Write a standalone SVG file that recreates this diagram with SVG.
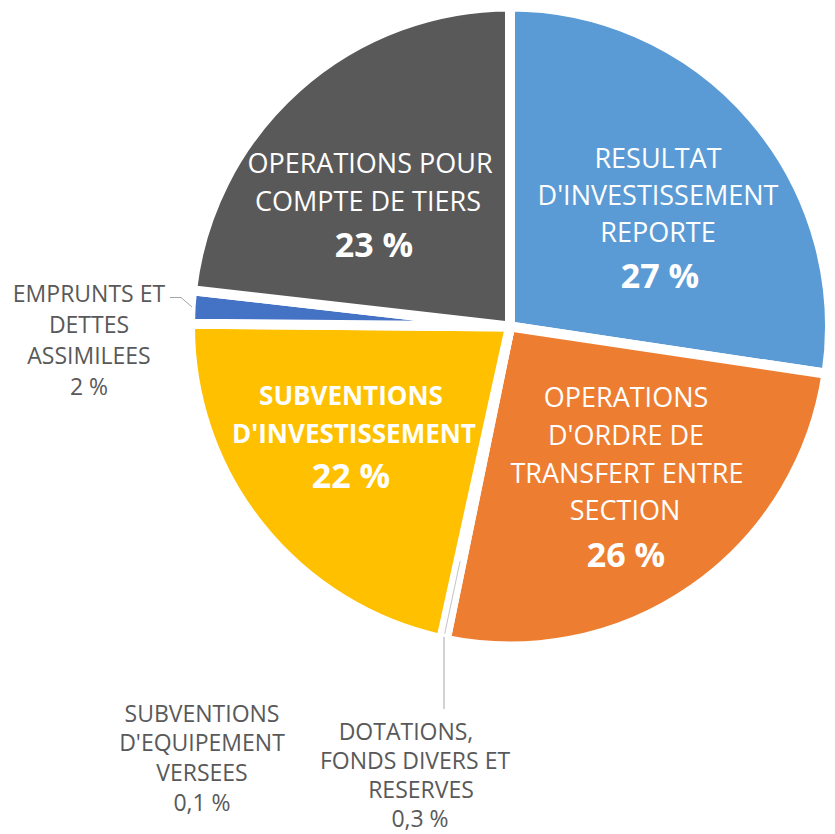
<svg xmlns="http://www.w3.org/2000/svg" width="835" height="834" viewBox="0 0 835 834">
  <style>
    .slice { stroke: #FFFFFF; stroke-width: 10; stroke-linejoin: round; }
    .in { font-family: "Open Sans", "Noto Sans", sans-serif; font-size: 27px; fill: #FFFFFF; text-anchor: middle; }
    .inb { font-family: "Open Sans", "Noto Sans", sans-serif; font-size: 34px; font-weight: bold; fill: #FFFFFF; text-anchor: middle; }
    .yb { font-family: "Open Sans", "Noto Sans", sans-serif; font-size: 26px; font-weight: bold; fill: #FFFFFF; text-anchor: middle; }
    .out { font-family: "Open Sans", "Noto Sans", sans-serif; font-size: 23px; fill: #595959; text-anchor: middle; }
    .leader { fill: none; stroke: #A6A6A6; stroke-width: 1; }
  </style>
  <rect width="835" height="834" fill="#FFFFFF"/>

  <g id="resultat">
    <path class="slice" fill="#5B9BD5" d="M510,326.5 L510,6.5 A320,320 0 0,1 826.49,373.8 Z"/>
    <text class="in" x="658" y="168">RESULTAT</text>
    <text class="in" x="658" y="205">D'INVESTISSEMENT</text>
    <text class="in" x="658" y="242">REPORTE</text>
    <text class="inb" x="660" y="288">27 %</text>
  </g>

  <g id="operations-ordre">
    <path class="slice" fill="#ED7D31" d="M510,326.5 L826.49,373.8 A320,320 0 0,1 445.65,639.97 Z"/>
    <text class="in" x="626" y="407">OPERATIONS</text>
    <text class="in" x="626" y="445">D'ORDRE DE</text>
    <text class="in" x="627" y="483">TRANSFERT ENTRE</text>
    <text class="in" x="625" y="520">SECTION</text>
    <text class="inb" x="626" y="567">26 %</text>
  </g>

  <g id="dotations">
    <path class="slice" fill="#A5A5A5" d="M510,326.5 L445.65,639.97 A320,320 0 0,1 442.92,639.39 Z"/>
  </g>

  <g id="subventions-equipement">
    <path class="slice" fill="#264478" d="M510,326.5 L442.92,639.39 A320,320 0 0,1 441.28,639.03 Z"/>
  </g>

  <g id="subventions-investissement">
    <path class="slice" fill="#FFC000" d="M510,326.5 L441.28,639.03 A320,320 0 0,1 190.01,323.71 Z"/>
    <text class="yb" x="351" y="405">SUBVENTIONS</text>
    <text class="yb" x="354" y="443">D'INVESTISSEMENT</text>
    <text class="inb" x="351" y="488">22 %</text>
  </g>

  <g id="emprunts">
    <path class="slice" fill="#4472C4" d="M510,326.5 L190.01,323.71 A320,320 0 0,1 192.06,290.28 Z"/>
  </g>

  <g id="operations-tiers">
    <path class="slice" fill="#595959" d="M510,326.5 L192.06,290.28 A320,320 0 0,1 510,6.5 Z"/>
    <text class="in" x="370" y="173">OPERATIONS POUR</text>
    <text class="in" x="368" y="211">COMPTE DE TIERS</text>
    <text class="inb" x="374" y="257">23 %</text>
  </g>

  <g id="connectors">
    <line x1="460.1" y1="561.26" x2="444.72" y2="633.64" stroke="#C4C4C4" stroke-width="1"/>
    <polyline class="leader" points="170,297.5 181,297.5 192,307"/>
    <line class="leader" x1="444" y1="637" x2="444" y2="709"/>
  </g>

  <g id="label-emprunts">
    <text class="out" x="89" y="302">EMPRUNTS ET</text>
    <text class="out" x="89" y="333">DETTES</text>
    <text class="out" x="89" y="364">ASSIMILEES</text>
    <text class="out" x="89" y="395">2 %</text>
  </g>

  <g id="label-subventions-equipement">
    <text class="out" x="202" y="721.5">SUBVENTIONS</text>
    <text class="out" x="202" y="751">D'EQUIPEMENT</text>
    <text class="out" x="202" y="781">VERSEES</text>
    <text class="out" x="202" y="811">0,1 %</text>
  </g>

  <g id="label-dotations">
    <text class="out" x="406" y="740">DOTATIONS,</text>
    <text class="out" x="415" y="769">FONDS DIVERS ET</text>
    <text class="out" x="421" y="798">RESERVES</text>
    <text class="out" x="420" y="827">0,3 %</text>
  </g>
</svg>
